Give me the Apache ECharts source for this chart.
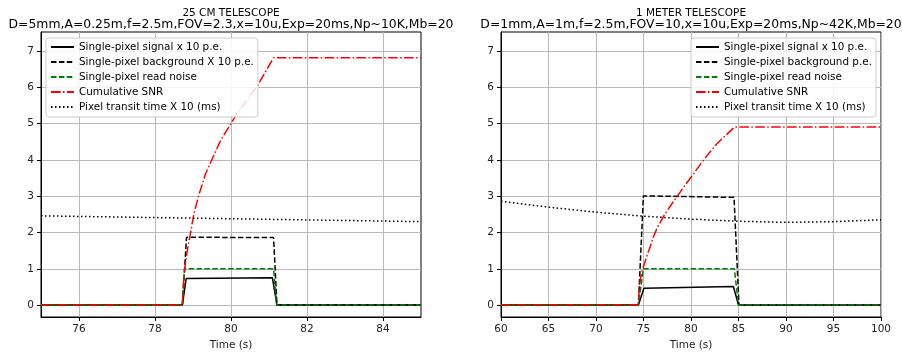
<!DOCTYPE html>
<html>
<head>
<meta charset="utf-8">
<script src="https://cdn.jsdelivr.net/npm/echarts@6/dist/echarts.min.js"></script>
<style>
  html, body { margin: 0; padding: 0; background: #fff; }
  #chart { width: 902px; height: 352px; }
</style>
</head>
<body>
<div id="chart"></div>
<script>
// ---- data ----
const legendNamesLeft = [
  'Single-pixel signal x 10 p.e.',
  'Single-pixel background X 10 p.e.',
  'Single-pixel read noise',
  'Cumulative SNR',
  'Pixel transit time X 10 (ms)'
]
const legendNamesRight = [
  'Single-pixel signal x 10 p.e.',
  'Single-pixel background p.e.',
  'Single-pixel read noise',
  'Cumulative SNR',
  'Pixel transit time X 10 (ms)'
]
const yTicks = [0, 1, 2, 3, 4, 5, 6, 7]
const leftXTicks = [76, 78, 80, 82, 84]

// 25 cm telescope (left)
const leftSignal = [[75, 0], [78.72, 0], [78.82, 0.73], [81.09, 0.75], [81.21, 0], [85, 0]]
const leftBackground = [[75, 0], [78.72, 0], [78.83, 1.87], [81.12, 1.86], [81.21, 0], [85, 0]]
const leftReadNoise = [[75, 0], [78.72, 0], [78.78, 1.0], [81.12, 1.0], [81.2, 0], [85, 0]]
const leftSnr = [[75, 0], [78.72, 0], [78.76, 0.8], [78.8, 1.15], [78.85, 1.5], [78.94, 2.02], [79.02, 2.5],
  [79.15, 3.02], [79.33, 3.62], [79.51, 4.04], [79.73, 4.55], [79.95, 4.92], [80.12, 5.22],
  [80.4, 5.62], [80.7, 6.05], [80.9, 6.42], [81.12, 6.82], [85, 6.82]]
const leftTransit = [[75, 2.46], [77.5, 2.42], [80, 2.38], [82.5, 2.34], [85, 2.3]]

// 1 meter telescope (right)
const rightSignal = [[60, 0], [74.46, 0], [75.05, 0.46], [84.46, 0.51], [85.0, 0], [100, 0]]
const rightBackground = [[60, 0], [74.46, 0], [74.99, 3.01], [84.53, 2.97], [85.05, 0], [100, 0]]
const rightReadNoise = [[60, 0], [74.46, 0], [74.99, 1.0], [84.56, 1.0], [85.0, 0], [100, 0]]
const rightSnr = [[60, 0], [74.46, 0], [74.55, 0.45], [74.7, 0.75], [74.85, 0.95], [75.0, 1.07],
  [75.2, 1.22], [75.45, 1.42], [75.7, 1.6], [76.0, 1.85], [76.4, 2.1], [76.8, 2.3], [77.3, 2.53],
  [77.9, 2.76], [78.5, 2.98], [79.2, 3.24], [79.9, 3.49], [80.6, 3.74], [81.3, 3.99], [82.0, 4.22],
  [82.7, 4.44], [83.4, 4.62], [84.1, 4.79], [84.6, 4.91], [100, 4.91]]
const rightTransit = [[60, 2.86], [65, 2.7], [70, 2.56], [75, 2.45], [80, 2.37], [85, 2.31],
  [90, 2.28], [95, 2.3], [100, 2.35]]

// ---- styles ----
const font = 'DejaVu Sans'
const txt = '#222'
const lineStyles = [
  { color: '#000', width: 1.5, type: 'solid' },
  { color: '#000', width: 1.5, type: [5.5, 2.4] },
  { color: '#008000', width: 1.5, type: [5.5, 2.4] },
  { color: '#ff0000', width: 1.5, type: [9.6, 2.4, 1.5, 2.4] },
  { color: '#000', width: 1.5, type: [1.5, 2.5] }
]

const chart = echarts.init(document.getElementById('chart'), null, { renderer: 'canvas' })

function xAxisFor(gridIndex, min, max, extra) {
  return Object.assign({
    type: 'value', gridIndex, min, max,
    name: 'Time (s)', nameLocation: 'middle', nameGap: 22,
    nameTextStyle: { fontFamily: font, fontSize: 10.5, color: txt },
    axisLine: { show: true, onZero: false, lineStyle: { color: '#000', width: 1 } },
    axisTick: { show: true, length: 4, lineStyle: { color: '#000' } },
    axisLabel: { fontFamily: font, fontSize: 10.5, color: txt, margin: 7 },
    splitLine: { show: true, lineStyle: { color: '#b8b8b8', width: 1 } }
  }, extra || {})
}

function yAxisFor(gridIndex) {
  return {
    type: 'value', gridIndex, min: -0.33, max: 7.53,
    axisLine: { show: true, onZero: false, lineStyle: { color: '#000', width: 1 } },
    axisTick: { show: true, length: 4, customValues: yTicks, lineStyle: { color: '#000' } },
    axisLabel: { fontFamily: font, fontSize: 10.5, color: txt, margin: 7, customValues: yTicks },
    splitLine: { show: true, lineStyle: { color: '#b8b8b8', width: 1 } }
  }
}

function legendFor(left, names) {
  return {
    orient: 'vertical', left, top: 38,
    data: names,
    itemWidth: 23, itemHeight: 14, itemGap: 1,
    padding: [2, 4, 3, 4],
    backgroundColor: 'rgba(255,255,255,0.85)',
    borderColor: '#cccccc', borderWidth: 1, borderRadius: 3,
    selectedMode: false,
    itemStyle: { opacity: 0 },
    textStyle: { fontFamily: font, fontSize: 10.4, lineHeight: 14, color: '#000' }
  }
}

function seriesFor(idx, names, datasets) {
  return datasets.map((d, i) => ({
    name: names[i], type: 'line', xAxisIndex: idx, yAxisIndex: idx,
    data: d, symbol: 'none', showSymbol: false, smooth: false,
    lineStyle: lineStyles[i], itemStyle: { color: lineStyles[i].color },
    silent: true, clip: true
  }))
}

const titleBase = {
  top: 8, textAlign: 'center', itemGap: 0, padding: 0,
  textStyle: { fontFamily: font, fontSize: 10.5, fontWeight: 'normal', color: '#000' },
  subtextStyle: { fontFamily: font, fontSize: 12.4, color: '#000' }
}

const option = {
  animation: false,
  backgroundColor: '#fff',
  title: [
    Object.assign({ text: '25 CM TELESCOPE', subtext: 'D=5mm,A=0.25m,f=2.5m,FOV=2.3,x=10u,Exp=20ms,Np~10K,Mb=20', left: 231 }, titleBase),
    Object.assign({ text: '1 METER TELESCOPE', subtext: 'D=1mm,A=1m,f=2.5m,FOV=10,x=10u,Exp=20ms,Np~42K,Mb=20', left: 691 }, titleBase)
  ],
  legend: [legendFor(46, legendNamesLeft), legendFor(691, legendNamesRight)],
  grid: [
    { left: 41, top: 32, width: 380, height: 285, show: true, borderColor: '#000', borderWidth: 1, outerBoundsMode: 'none', containLabel: false },
    { left: 501, top: 32, width: 380, height: 285, show: true, borderColor: '#000', borderWidth: 1, outerBoundsMode: 'none', containLabel: false }
  ],
  xAxis: [
    xAxisFor(0, 75, 85, {
      axisTick: { show: true, length: 4, customValues: leftXTicks, lineStyle: { color: '#000' } },
      axisLabel: { fontFamily: font, fontSize: 10.5, color: txt, margin: 7, customValues: leftXTicks }
    }),
    xAxisFor(1, 60, 100, { interval: 5 })
  ],
  yAxis: [yAxisFor(0), yAxisFor(1)],
  series: [
    ...seriesFor(0, legendNamesLeft, [leftSignal, leftBackground, leftReadNoise, leftSnr, leftTransit]),
    ...seriesFor(1, legendNamesRight, [rightSignal, rightBackground, rightReadNoise, rightSnr, rightTransit])
  ]
}

chart.setOption(option)
</script>
</body>
</html>
